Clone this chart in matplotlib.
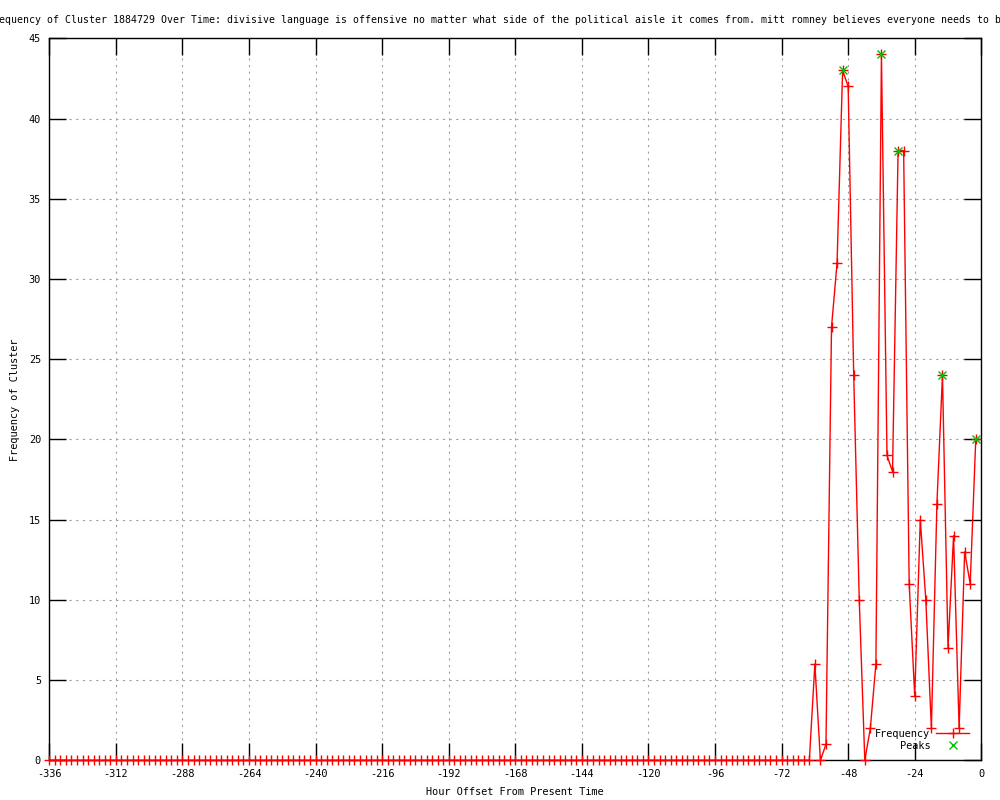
import matplotlib
matplotlib.use('Agg')
import matplotlib.pyplot as plt

# Часы (шаг 2 ч) и частота кластера
hours = list(range(-336, 0, 2))
freq = [0] * 138 + [
    6, 0, 1, 27, 31, 43, 42, 24, 10, 0,
    2, 6, 44, 19, 18, 38, 38, 11, 4, 15,
    10, 2, 16, 24, 7, 14, 2, 13, 11, 20,
]

peak_hours = [-50, -36, -30, -14, -2]
peak_freq = [43, 44, 38, 24, 20]

x_ticks = list(range(-336, 1, 24))
y_ticks = list(range(0, 46, 5))

title = ('equency of Cluster 1884729 Over Time: divisive language is offensive no matter '
         'what side of the political aisle it comes from. mitt romney believes everyone needs to b')

plt.rcParams['font.family'] = ['DejaVu Sans Mono']
plt.rcParams['font.size'] = 7.4
plt.rcParams['axes.unicode_minus'] = False

fig = plt.figure(figsize=(10, 8), dpi=100)
ax = fig.add_axes([0.0493, 0.0496, 0.932, 0.9025])

ax.plot(hours, freq, color='red', lw=1.0, marker='+', ms=7, mew=1.0,
        label='Frequency', clip_on=False, zorder=3)
ax.plot(peak_hours, peak_freq, color='#00c000', lw=0, marker='x', ms=6, mew=1.0,
        label='Peaks', clip_on=False, zorder=4)

ax.set_xlim(-336, 0)
ax.set_ylim(0, 45)
ax.set_xticks(x_ticks)
ax.set_yticks(y_ticks)
ax.grid(True, color='#a0a0a0', linestyle=(0, (2, 4)), lw=0.8)
ax.tick_params(direction='in', length=12, width=1, top=True, right=True, pad=6)
for sp in ax.spines.values():
    sp.set_linewidth(1.0)

ax.set_xlabel('Hour Offset From Present Time', labelpad=6)
ax.set_ylabel('Frequency of Cluster', labelpad=6)

fig.text(0.5, 0.975, title, ha='center', va='center', fontsize=7.1)

ax.legend(loc='lower right', bbox_to_anchor=(0.997, 0.0), frameon=False,
          markerfirst=False, handlelength=3.2, handletextpad=0.6,
          labelspacing=0.25, borderpad=0.4)

fig.savefig('out.png', dpi=100)
